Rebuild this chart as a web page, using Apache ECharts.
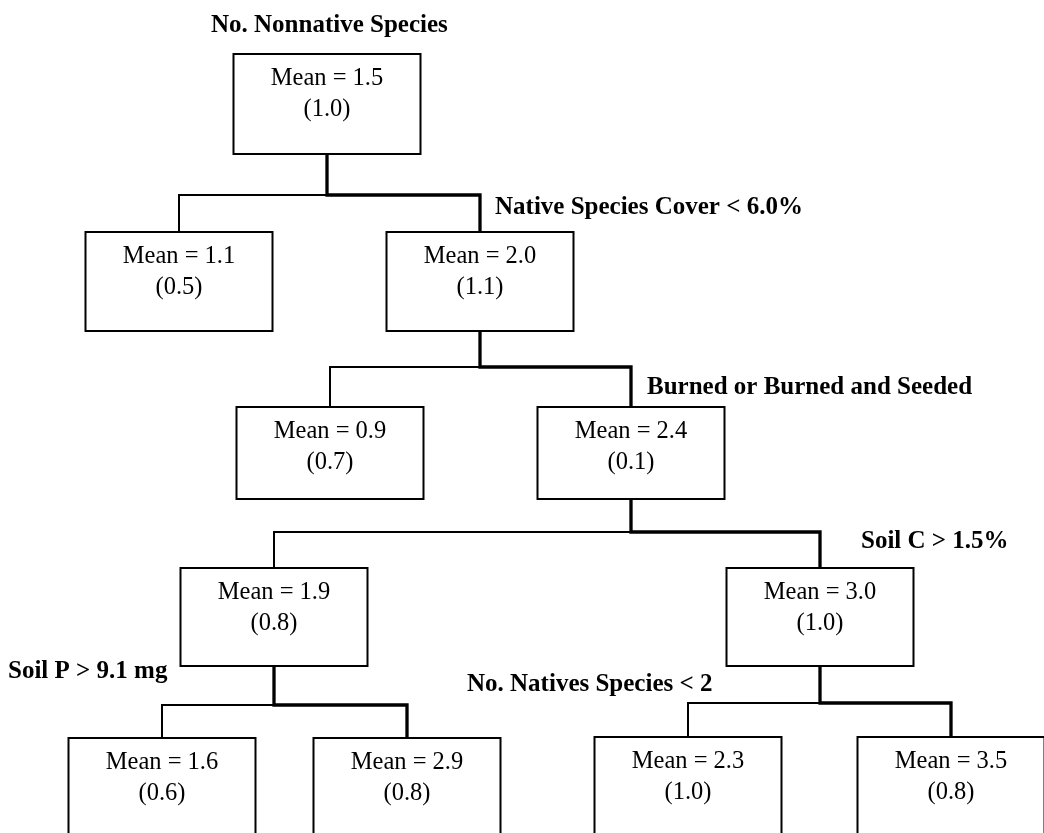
<!DOCTYPE html>
<html>
<head>
<meta charset="utf-8">
<title>No. Nonnative Species</title>
<script src="https://cdn.jsdelivr.net/npm/echarts@6/dist/echarts.min.js"></script>
<style>
  html, body { margin: 0; padding: 0; background: #fff; }
  #tree { width: 1044px; height: 833px; }
</style>
</head>
<body>
<div id="tree"></div>
<script>
// mean (sd) of the number of nonnative species in each node
const nodeMeans = [1.5, 1.1, 2.0, 0.9, 2.4, 1.9, 3.0, 1.6, 2.9, 2.3, 3.5];
const nodeSds = [1.0, 0.5, 1.1, 0.7, 0.1, 0.8, 1.0, 0.6, 0.8, 1.0, 0.8];
// splits: parent node -> left child, right child
const splitParent = [0, 2, 4, 5, 6];
const splitLeft = [1, 3, 5, 7, 9];
const splitRight = [2, 4, 6, 8, 10];
const splitLabels = ['Native Species Cover < 6.0%', 'Burned or Burned and Seeded', 'Soil C > 1.5%', 'Soil P > 9.1 mg', 'No. Natives Species < 2'];
const treeTitle = 'No. Nonnative Species';

// layout, in page units (x 0..1044, y 0..833 from the top)
const nodeX = [327, 179, 480, 330, 631, 274, 820, 162, 407, 688, 951];
const nodeTop = [54, 232, 232, 407, 407, 568, 568, 738, 738, 737, 737];
const nodeH = [100, 99, 99, 92, 92, 98, 98, 130, 130, 130, 130];
const boxW = 187;
const barY = [195, 367, 532, 705, 703];
const labelX = [495, 647, 861, 8, 467];
const labelY = [216, 396, 550, 680, 693];

const serif = '"Liberation Serif", "Times New Roman", serif';

let myChart = echarts.init(document.getElementById('tree'));

function drawNode(params, api) {
  let i = params.dataIndex;
  let tl = api.coord([nodeX[i] - boxW / 2, nodeTop[i]]);
  let br = api.coord([nodeX[i] + boxW / 2, nodeTop[i] + nodeH[i]]);
  let c = api.coord([nodeX[i], nodeTop[i] + 33.5]);
  return {
    type: 'group',
    children: [
      {
        type: 'rect',
        shape: { x: tl[0], y: tl[1], width: br[0] - tl[0], height: br[1] - tl[1] },
        style: { fill: '#fff', stroke: '#000', lineWidth: 2 }
      },
      {
        type: 'text',
        x: c[0], y: c[1] - 8.5,
        style: {
          text: 'Mean = ' + api.value(2).toFixed(1),
          fill: '#000', fontFamily: serif, fontSize: 24.5,
          align: 'center', verticalAlign: 'middle'
        }
      },
      {
        type: 'text',
        x: c[0], y: c[1] + 31 - 8.5,
        style: {
          text: '(' + api.value(3).toFixed(1) + ')',
          fill: '#000', fontFamily: serif, fontSize: 24.5,
          align: 'center', verticalAlign: 'middle'
        }
      }
    ]
  };
}

function drawSplit(params, api) {
  let s = params.dataIndex;
  let p = splitParent[s], l = splitLeft[s], r = splitRight[s];
  let pt = function (x, y) { return api.coord([x, y]); };
  let thick = [
    pt(nodeX[p], nodeTop[p] + nodeH[p]),
    pt(nodeX[p], barY[s]),
    pt(nodeX[r], barY[s]),
    pt(nodeX[r], nodeTop[r])
  ];
  let thin = [
    pt(nodeX[p], barY[s]),
    pt(nodeX[l], barY[s]),
    pt(nodeX[l], nodeTop[l])
  ];
  let lab = pt(labelX[s], labelY[s]);
  return {
    type: 'group',
    children: [
      { type: 'polyline', shape: { points: thin }, style: { stroke: '#000', lineWidth: 2, fill: null } },
      { type: 'polyline', shape: { points: thick }, style: { stroke: '#000', lineWidth: 3.3, fill: null } },
      {
        type: 'text',
        x: lab[0], y: lab[1] - 8.5,
        style: {
          text: splitLabels[s],
          fill: '#000', fontFamily: serif, fontSize: 25, fontWeight: 'bold',
          align: 'left', verticalAlign: 'middle'
        }
      }
    ]
  };
}

myChart.setOption({
  animation: false,
  title: {
    text: treeTitle,
    left: 211,
    top: 13,
    padding: 0,
    textStyle: { fontFamily: serif, fontSize: 25, fontWeight: 'bold', color: '#000' }
  },
  grid: { left: 0, right: 0, top: 0, bottom: 0 },
  xAxis: { type: 'value', min: 0, max: 1044, show: false },
  yAxis: { type: 'value', min: 0, max: 833, inverse: true, show: false },
  series: [
    {
      name: 'splits',
      type: 'custom',
      renderItem: drawSplit,
      data: splitLabels.map(function (t, s) { return [nodeX[splitParent[s]], barY[s]]; }),
      encode: { x: 0, y: 1 },
      silent: true,
      z: 1
    },
    {
      name: 'nodes',
      type: 'custom',
      renderItem: drawNode,
      data: nodeMeans.map(function (m, i) { return [nodeX[i], nodeTop[i], m, nodeSds[i]]; }),
      encode: { x: 0, y: 1 },
      silent: true,
      z: 2
    }
  ]
});
</script>
</body>
</html>
